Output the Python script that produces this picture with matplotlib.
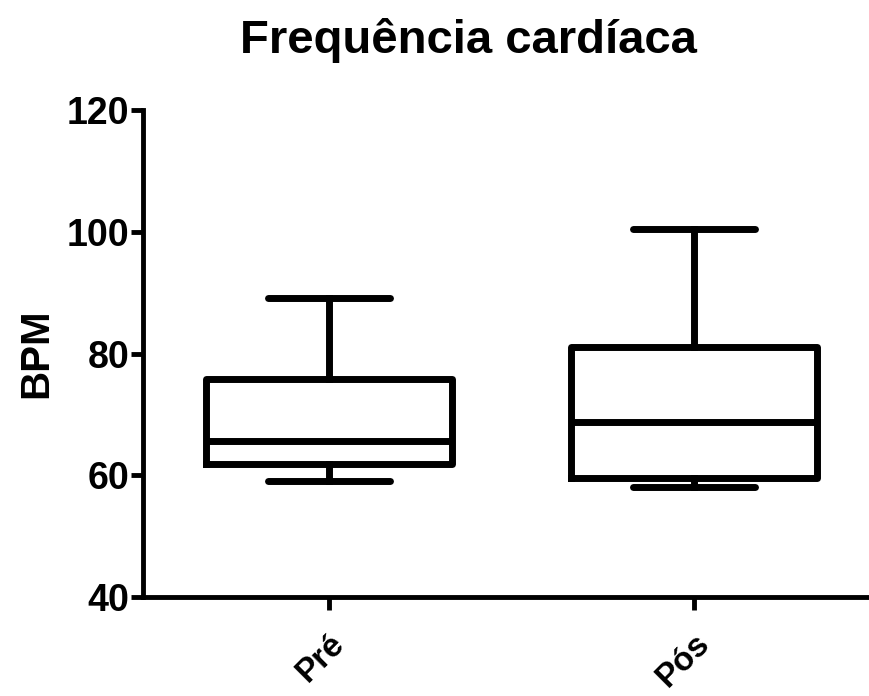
import matplotlib
matplotlib.use("Agg")
import matplotlib.pyplot as plt

categories = ["Pré", "Pós"]
whislo = [59.0, 58.0]
q1 = [61.9, 59.6]
med = [65.7, 68.7]
q3 = [75.8, 81.0]
whishi = [89.1, 100.4]
yticks = [40, 60, 80, 100, 120]

plt.rcParams['font.family'] = ['Liberation Sans', 'DejaVu Sans']
plt.rcParams['font.weight'] = 'bold'

fig = plt.figure(figsize=(8.7, 6.96), dpi=100)
ax = fig.add_axes([143/870, 99/696, 1 - 143/870 - 0.001, 487/696])

stats = []
for i, c in enumerate(categories):
    stats.append(dict(label=c, whislo=whislo[i], q1=q1[i], med=med[i],
                      q3=q3[i], whishi=whishi[i], fliers=[]))

lw = 5
ax.bxp(stats, positions=[1, 2], widths=0.672, showfliers=False,
       boxprops=dict(color='black', linewidth=lw, solid_joinstyle='round'),
       medianprops=dict(color='black', linewidth=lw),
       whiskerprops=dict(color='black', linewidth=lw),
       capprops=dict(color='black', linewidth=lw, solid_capstyle='round'),
       capwidths=0.336)

ax.set_xlim(0.49, 2.48)
ax.set_ylim(40, 120)
ax.set_yticks(yticks)
ax.set_xticks([1, 2])
ax.set_xticklabels(categories, rotation=45, ha='right', va='top',
                   rotation_mode='anchor', fontsize=24, fontweight='bold')
ax.tick_params(axis='y', labelsize=27, width=3.5, length=9, pad=1)
ax.tick_params(axis='x', width=3.5, length=9, pad=13)
for lab in ax.get_yticklabels():
    lab.set_fontweight('bold')

for s in ['top', 'right']:
    ax.spines[s].set_visible(False)
for s in ['left', 'bottom']:
    ax.spines[s].set_linewidth(3.5)

ax.set_ylabel("BPM", fontsize=29, fontweight='bold', labelpad=8)
fig.text(0.538, 0.942, "Frequência cardíaca", ha='center', va='center',
         fontsize=34, fontweight='bold')

fig.savefig("out.png", dpi=100)
